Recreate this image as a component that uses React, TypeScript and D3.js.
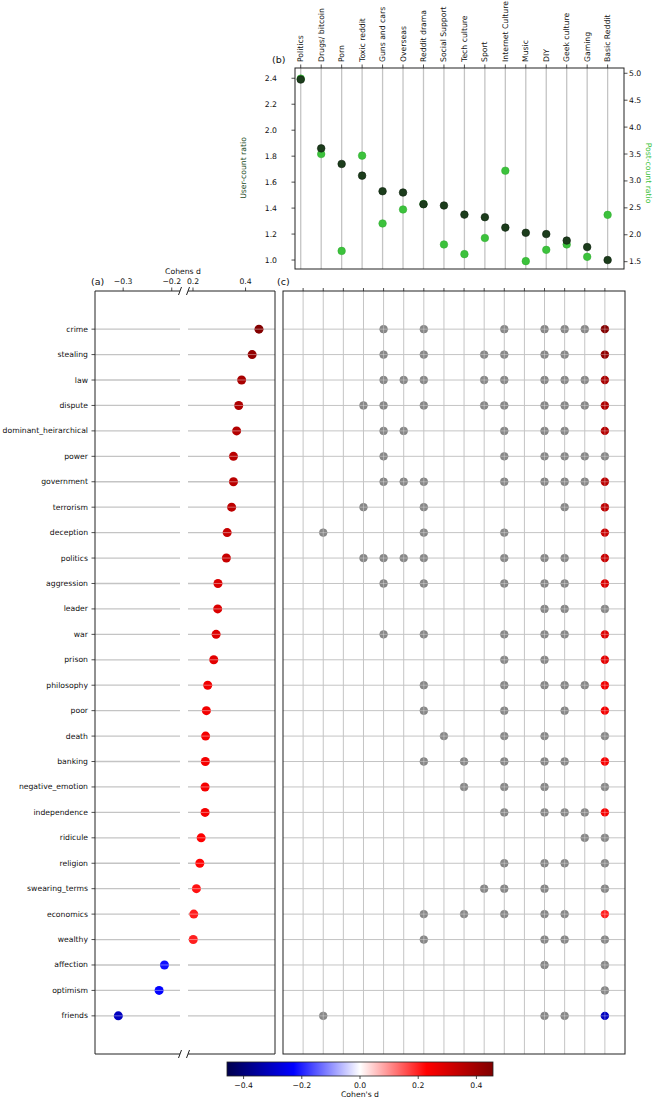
import React from 'react';
import * as d3 from 'd3';

const subreddits = ['Politics', 'Drugs/ bitcoin', 'Porn', 'Toxic reddit', 'Guns and cars', 'Overseas', 'Reddit drama', 'Social Support', 'Tech culture', 'Sport', 'Internet Culture', 'Music', 'DIY', 'Geek culture', 'Gaming', 'Basic Reddit'];
const userCountRatio = [2.39, 1.86, 1.74, 1.65, 1.53, 1.52, 1.43, 1.42, 1.35, 1.33, 1.25, 1.21, 1.2, 1.15, 1.1, 1.0];
const postCountRatio = [4.9, 3.5, 1.7, 3.47, 2.21, 2.47, 2.57, 1.82, 1.64, 1.94, 3.19, 1.51, 1.72, 1.82, 1.59, 2.37];
const userTicks = [1.0, 1.2, 1.4, 1.6, 1.8, 2.0, 2.2, 2.4];
const postTicks = [1.5, 2.0, 2.5, 3.0, 3.5, 4.0, 4.5, 5.0];

const terms = ['crime', 'stealing', 'law', 'dispute', 'dominant_heirarchical', 'power', 'government', 'terrorism', 'deception', 'politics', 'aggression', 'leader', 'war', 'prison', 'philosophy', 'poor', 'death', 'banking', 'negative_emotion', 'independence', 'ridicule', 'religion', 'swearing_terms', 'economics', 'wealthy', 'affection', 'optimism', 'friends'];
const cohensD = [0.451, 0.425, 0.385, 0.374, 0.366, 0.354, 0.354, 0.347, 0.33, 0.327, 0.295, 0.294, 0.288, 0.279, 0.256, 0.251, 0.248, 0.247, 0.246, 0.246, 0.231, 0.226, 0.213, 0.203, 0.201, -0.215, -0.226, -0.31];
// subreddit columns (index into subreddits) where each term shows up
const termSubreddits: number[][] = [
  [4, 6, 10, 12, 13, 14, 15],
  [4, 6, 9, 10, 12, 13, 15],
  [4, 5, 6, 9, 10, 12, 13, 14, 15],
  [3, 4, 6, 9, 10, 12, 13, 14, 15],
  [4, 5, 10, 12, 13, 15],
  [4, 10, 12, 13, 14, 15],
  [4, 5, 6, 10, 12, 13, 14, 15],
  [3, 6, 13, 15],
  [1, 6, 10, 15],
  [3, 4, 5, 6, 10, 12, 13, 15],
  [4, 6, 10, 12, 13, 15],
  [12, 13, 15],
  [4, 6, 10, 12, 13, 15],
  [10, 12, 15],
  [6, 10, 12, 13, 14, 15],
  [6, 10, 13, 15],
  [7, 10, 12, 15],
  [6, 8, 10, 12, 13, 15],
  [8, 10, 12, 15],
  [10, 12, 13, 14, 15],
  [14, 15],
  [10, 12, 13, 15],
  [9, 10, 12, 15],
  [6, 8, 10, 12, 13, 15],
  [6, 12, 13, 15],
  [12, 15],
  [15],
  [1, 12, 13, 15],
];
// terms whose Basic Reddit dot is coloured by Cohen's d
const basicColoured = ['crime', 'stealing', 'law', 'dispute', 'dominant_heirarchical', 'government', 'terrorism', 'deception', 'politics', 'aggression', 'war', 'prison', 'philosophy', 'poor', 'banking', 'independence', 'economics', 'friends'];
const leftTicks = [-0.3, -0.2];
const rightTicks = [0.2, 0.4];
const cbarTicks = [-0.4, -0.2, 0.0, 0.2, 0.4];

const FONT = 'DejaVu Sans, sans-serif';
const FS = 7.7;
const VMAX = 0.457;
const DARK = '#1c3d1c';
const LIGHT = '#3cc23c';
const GRID = '#c4c4c4';

const seismic = d3.scaleLinear<string>()
  .domain([-VMAX, -VMAX / 2, 0, VMAX / 2, VMAX])
  .range(['#00004d', '#0000ff', '#ffffff', '#ff0000', '#800000'])
  .interpolate(d3.interpolateRgb);

const fmt = (v: number) => v.toFixed(1).replace('-', '\u2212');

export default function App() {
  // panel (b)
  const bx = d3.scaleLinear().domain([-0.28, 15.8]).range([295, 624]);
  const byL = d3.scaleLinear().domain([0.931, 2.479]).range([269, 68]);
  const byR = d3.scaleLinear().domain([1.364, 5.098]).range([269, 68]);

  // panel (a), broken x axis
  const axL = d3.scaleLinear().domain([-0.358, -0.183]).range([95, 180]);
  const axR = d3.scaleLinear().domain([0.181, 0.512]).range([188, 275]);
  const ax = (d: number) => (d < 0 ? axL(d) : axR(d));
  const rowY = d3.scaleLinear().domain([-1.5, 28.5]).range([291, 1054]);

  // panel (c)
  const cx = d3.scaleLinear().domain([-1, 16]).range([283, 625]);

  // colorbar
  const cb = d3.scaleLinear().domain([-VMAX, VMAX]).range([227, 493]);
  const gradStops = d3.range(0, 1.0001, 0.05);

  const top = 291, bottom = 1054;

  return (
    <svg width={653} height={1099} style={{ position: 'absolute', left: 0, top: 0, background: '#fff' }} fontFamily={FONT}>
      <defs>
        <linearGradient id="cbar" x1="0" x2="1" y1="0" y2="0">
          {gradStops.map(t => (
            <stop key={t} offset={t} stopColor={seismic(-VMAX + t * 2 * VMAX)} />
          ))}
        </linearGradient>
      </defs>

      {/* ---------- (b) ---------- */}
      {subreddits.map((s, i) => (
        <g key={s}>
          <line x1={bx(i)} x2={bx(i)} y1={68} y2={269} stroke={GRID} strokeWidth={1.3} />
          <line x1={bx(i)} x2={bx(i)} y1={68} y2={64.5} stroke="#222" strokeWidth={0.8} />
          <text transform={`translate(${bx(i)},62) rotate(-90)`} fontSize={FS} textAnchor="start" dominantBaseline="central" fill="#111">{s}</text>
        </g>
      ))}
      {postCountRatio.map((v, i) => (
        <circle key={'p' + i} cx={bx(i)} cy={byR(v)} r={3.8} fill={LIGHT} stroke="#2fa82f" strokeWidth={0.5} />
      ))}
      {userCountRatio.map((v, i) => (
        <circle key={'u' + i} cx={bx(i)} cy={byL(v)} r={3.8} fill={DARK} stroke="#0b1f0b" strokeWidth={0.6} />
      ))}
      <rect x={295} y={68} width={329} height={201} fill="none" stroke="#222" strokeWidth={1} />
      {userTicks.map(t => (
        <g key={'ut' + t}>
          <line x1={295} x2={291.5} y1={byL(t)} y2={byL(t)} stroke="#222" strokeWidth={0.8} />
          <text x={277} y={byL(t)} fontSize={FS} textAnchor="end" dominantBaseline="central" fill="#111">{t.toFixed(1)}</text>
        </g>
      ))}
      {postTicks.map(t => (
        <g key={'pt' + t}>
          <line x1={624} x2={627.5} y1={byR(t)} y2={byR(t)} stroke="#222" strokeWidth={0.8} />
          <text x={629} y={byR(t)} fontSize={FS} textAnchor="start" dominantBaseline="central" fill="#111">{t.toFixed(1)}</text>
        </g>
      ))}
      <text transform="translate(246,168) rotate(-90)" fontSize={FS} textAnchor="middle" fill="#1c4a1c">User-count ratio</text>
      <text transform="translate(646,173) rotate(90)" fontSize={FS} textAnchor="middle" fill={LIGHT}>Post-count ratio</text>
      <text x={272} y={59} fontSize={9.5} dominantBaseline="central" fill="#111">(b)</text>

      {/* ---------- (a) ---------- */}
      {terms.map((t, i) => (
        <g key={'ag' + t}>
          <line x1={95} x2={180} y1={rowY(i)} y2={rowY(i)} stroke={GRID} strokeWidth={1.3} />
          <line x1={188} x2={275} y1={rowY(i)} y2={rowY(i)} stroke={GRID} strokeWidth={1.3} />
          <line x1={95} x2={91.5} y1={rowY(i)} y2={rowY(i)} stroke="#222" strokeWidth={0.8} />
          <text x={88} y={rowY(i)} fontSize={FS} textAnchor="end" dominantBaseline="central" fill="#111">{t}</text>
        </g>
      ))}
      {cohensD.map((d, i) => (
        <g key={'ad' + i}>
          <circle cx={ax(d)} cy={rowY(i)} r={4.5} fill={seismic(d)} />
          <line x1={ax(d) - 4.5} x2={ax(d) + 4.5} y1={rowY(i)} y2={rowY(i)} stroke="#fff" strokeOpacity={0.45} strokeWidth={0.9} />
        </g>
      ))}
      {/* spines with the break */}
      <line x1={95} x2={180} y1={top} y2={top} stroke="#222" strokeWidth={1} />
      <line x1={188} x2={275} y1={top} y2={top} stroke="#222" strokeWidth={1} />
      <line x1={95} x2={180} y1={bottom} y2={bottom} stroke="#222" strokeWidth={1} />
      <line x1={188} x2={275} y1={bottom} y2={bottom} stroke="#222" strokeWidth={1} />
      <line x1={95} x2={95} y1={top} y2={bottom} stroke="#222" strokeWidth={1} />
      <line x1={275} x2={275} y1={top} y2={bottom} stroke="#222" strokeWidth={1} />
      {[180, 188].map(x => [top, bottom].map(y => (
        <line key={`br${x}-${y}`} x1={x - 1.5} x2={x + 1.5} y1={y + 4} y2={y - 4} stroke="#222" strokeWidth={1} />
      )))}
      {leftTicks.map(t => (
        <g key={'lt' + t}>
          <line x1={axL(t)} x2={axL(t)} y1={top} y2={top - 3.5} stroke="#222" strokeWidth={0.8} />
          <text x={axL(t)} y={top - 10} fontSize={FS} textAnchor="middle" dominantBaseline="central" fill="#111">{fmt(t)}</text>
        </g>
      ))}
      {rightTicks.map(t => (
        <g key={'rt' + t}>
          <line x1={axR(t)} x2={axR(t)} y1={top} y2={top - 3.5} stroke="#222" strokeWidth={0.8} />
          <text x={axR(t)} y={top - 10} fontSize={FS} textAnchor="middle" dominantBaseline="central" fill="#111">{fmt(t)}</text>
        </g>
      ))}
      <text x={183} y={271.5} fontSize={FS} textAnchor="middle" dominantBaseline="central" fill="#111">Cohens d</text>
      <text x={91} y={281.5} fontSize={9.5} dominantBaseline="central" fill="#111">(a)</text>

      {/* ---------- (c) ---------- */}
      {terms.map((t, i) => (
        <line key={'ch' + t} x1={283} x2={625} y1={rowY(i)} y2={rowY(i)} stroke={GRID} strokeWidth={1} />
      ))}
      {subreddits.map((s, j) => (
        <g key={'cv' + s}>
          <line x1={cx(j)} x2={cx(j)} y1={top} y2={bottom} stroke={GRID} strokeWidth={1} />
          <line x1={cx(j)} x2={cx(j)} y1={top} y2={top - 3} stroke="#222" strokeWidth={0.8} />
        </g>
      ))}
      {termSubreddits.map((cols, i) => cols.map(j => {
        const coloured = j === subreddits.length - 1 && basicColoured.includes(terms[i]);
        const x = cx(j), y = rowY(i), r = coloured ? 4.2 : 3.9;
        return (
          <g key={`c${i}-${j}`}>
            <circle cx={x} cy={y} r={r} fill={coloured ? seismic(cohensD[i]) : '#888'} stroke={coloured ? 'none' : '#7a7a7a'} strokeWidth={0.5} />
            <line x1={x - r} x2={x + r} y1={y} y2={y} stroke="#fff" strokeOpacity={0.4} strokeWidth={0.8} />
            <line x1={x} x2={x} y1={y - r} y2={y + r} stroke="#fff" strokeOpacity={0.4} strokeWidth={0.8} />
          </g>
        );
      }))}
      <rect x={283} y={top} width={342} height={bottom - top} fill="none" stroke="#222" strokeWidth={1} />
      <text x={277} y={281.5} fontSize={9.5} dominantBaseline="central" fill="#111">(c)</text>

      {/* ---------- colorbar ---------- */}
      <rect x={227} y={1062} width={266} height={14} fill="url(#cbar)" stroke="#222" strokeWidth={0.8} />
      {cbarTicks.map(t => (
        <g key={'cb' + t}>
          <line x1={cb(t)} x2={cb(t)} y1={1076} y2={1079} stroke="#222" strokeWidth={0.8} />
          <text x={cb(t)} y={1085} fontSize={FS} textAnchor="middle" dominantBaseline="central" fill="#111">{fmt(t)}</text>
        </g>
      ))}
      <text x={360} y={1094.5} fontSize={FS} textAnchor="middle" dominantBaseline="central" fill="#111">Cohen's d</text>
    </svg>
  );
}
